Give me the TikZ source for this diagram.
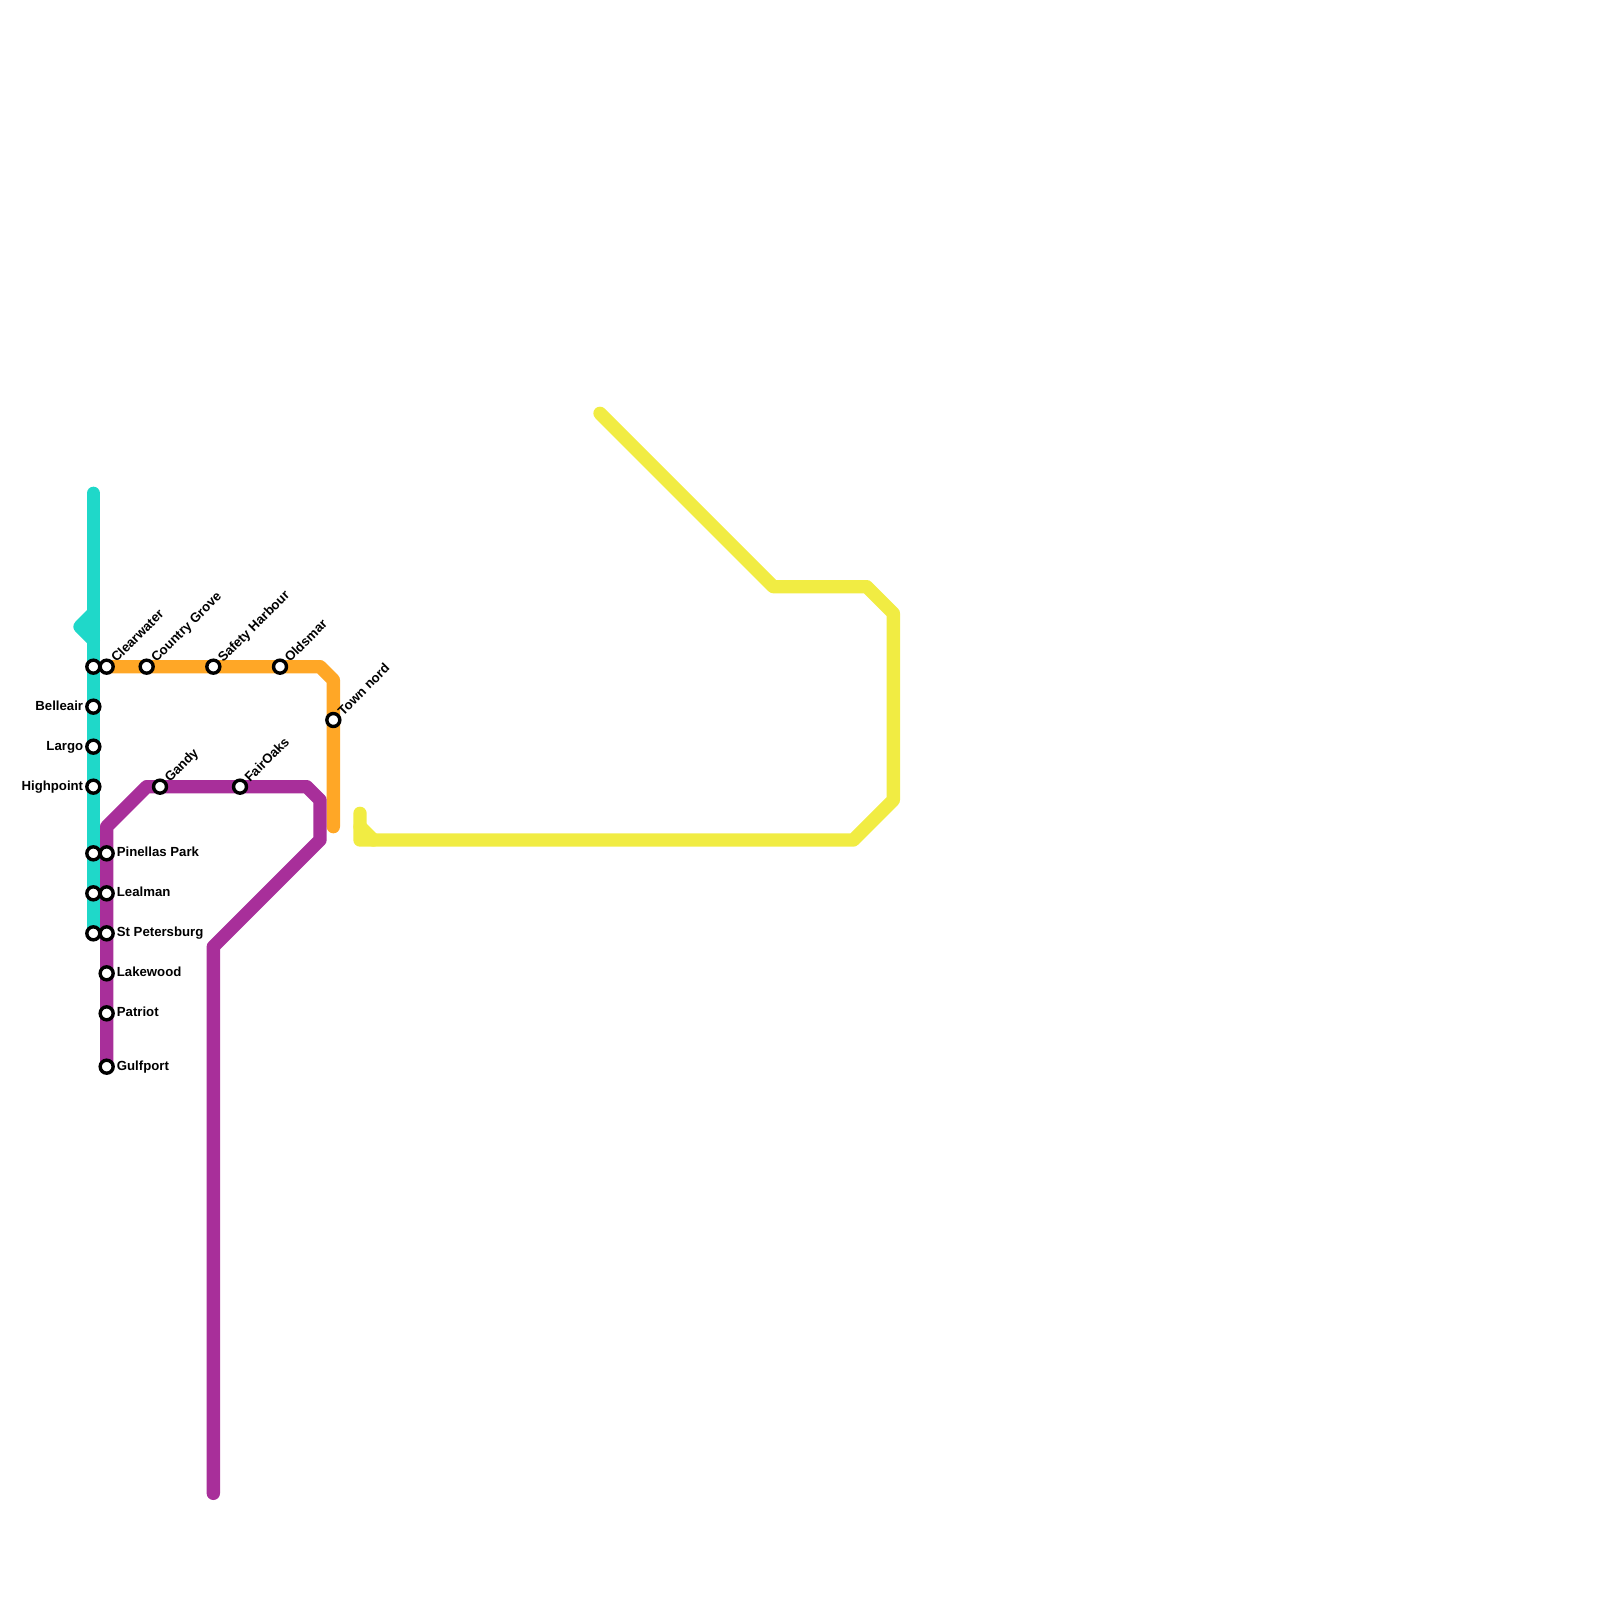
\documentclass[tikz,border=0pt]{standalone}
\usepackage{xcolor}
\usepackage{fontspec}
\setmainfont{Liberation Sans}
\definecolor{lineteal}{HTML}{1FD8C9}
\definecolor{lineorange}{HTML}{FFA726}
\definecolor{linepurple}{HTML}{A82F9A}
\definecolor{lineyellow}{HTML}{F1EC43}
\tikzset{
  metro/.style={line width=6.67pt, line cap=round, line join=round},
  stn/.style={circle, draw=black, fill=white, line width=1.7pt, minimum size=6.5pt, inner sep=0pt},
  lblE/.style={anchor=base west, inner sep=0pt, xshift=4.9pt, yshift=-1.8pt, font=\bfseries\fontsize{6.6}{8}\selectfont},
  lblW/.style={anchor=base east, inner sep=0pt, xshift=-4.9pt, yshift=-1.8pt, font=\bfseries\fontsize{6.6}{8}\selectfont},
  lblNE/.style={anchor=base west, inner sep=0pt, rotate=45, xshift=4.7pt, yshift=-2.2pt, font=\bfseries\fontsize{6.6}{8}\selectfont}
}
\begin{document}
\begin{tikzpicture}[x=0.5pt, y=-0.5pt]
\useasboundingbox (0,0) rectangle (1600,1600);

\coordinate (tealTop) at (93.33,493.33);
\coordinate (tealA) at (93.33,613.33);
\coordinate (tealB) at (80,626.67);
\coordinate (tealC) at (93.33,640);
\coordinate (tealEnd) at (93.33,933.33);
\draw[metro, lineteal] (tealTop) -- (tealEnd);
\draw[metro, lineteal] (tealA) -- (tealB) -- (tealC);

\coordinate (orangeStart) at (106.67,666.67);
\coordinate (orangeA) at (320,666.67);
\coordinate (orangeB) at (333.33,680);
\coordinate (orangeEnd) at (333.33,826.67);
\draw[metro, lineorange] (orangeStart) -- (orangeA) -- (orangeB) -- (orangeEnd);

\coordinate (purpleStart) at (213.33,1493.33);
\coordinate (purpleA) at (213.33,946.67);
\coordinate (purpleB) at (320,840);
\coordinate (purpleC) at (320,800);
\coordinate (purpleD) at (306.67,786.67);
\coordinate (purpleE) at (146.67,786.67);
\coordinate (purpleF) at (106.67,826.67);
\coordinate (purpleEnd) at (106.67,1066.67);
\draw[metro, linepurple] (purpleStart) -- (purpleA) -- (purpleB) -- (purpleC) -- (purpleD) -- (purpleE) -- (purpleF) -- (purpleEnd);

\coordinate (yellowStart) at (600,413.33);
\coordinate (yellowA) at (773.33,586.67);
\coordinate (yellowB) at (866.67,586.67);
\coordinate (yellowC) at (893.33,613.33);
\coordinate (yellowD) at (893.33,800);
\coordinate (yellowE) at (853.33,840);
\coordinate (yellowF) at (360,840);
\coordinate (yellowG) at (360,813.33);
\coordinate (yellowH) at (360,826.67);
\coordinate (yellowI) at (373.33,840);
\draw[metro, lineyellow] (yellowStart) -- (yellowA) -- (yellowB) -- (yellowC) -- (yellowD) -- (yellowE) -- (yellowF) -- (yellowG);
\draw[metro, lineyellow] (yellowH) -- (yellowI);

% teal stations
\node[stn] (dunedin) at (93.33,666.67) {};
\node[stn] (belleair) at (93.33,706.67) {};
\node[stn] (largo) at (93.33,746.67) {};
\node[stn] (highpoint) at (93.33,786.67) {};
\node[stn] (pinellasW) at (93.33,853.33) {};
\node[stn] (lealmanW) at (93.33,893.33) {};
\node[stn] (petersW) at (93.33,933.33) {};
\node[lblW] (belleairText) at (belleair) {Belleair};
\node[lblW] (largoText) at (largo) {Largo};
\node[lblW] (highpointText) at (highpoint) {Highpoint};

% orange stations
\node[stn] (clearwater) at (106.67,666.67) {};
\node[stn] (country) at (146.67,666.67) {};
\node[stn] (safety) at (213.33,666.67) {};
\node[stn] (oldsmar) at (280,666.67) {};
\node[stn] (townnord) at (333.33,720) {};
\node[lblNE] (clearwaterText) at (clearwater) {Clearwater};
\node[lblNE] (countryText) at (country) {Country Grove};
\node[lblNE] (safetyText) at (safety) {Safety Harbour};
\node[lblNE] (oldsmarText) at (oldsmar) {Oldsmar};
\node[lblNE] (townnordText) at (townnord) {Town nord};

% purple stations
\node[stn] (gandy) at (160,786.67) {};
\node[stn] (fairoaks) at (240,786.67) {};
\node[stn] (pinellas) at (106.67,853.33) {};
\node[stn] (lealman) at (106.67,893.33) {};
\node[stn] (peters) at (106.67,933.33) {};
\node[stn] (lakewood) at (106.67,973.33) {};
\node[stn] (patriot) at (106.67,1013.33) {};
\node[stn] (gulfport) at (106.67,1066.67) {};
\node[lblNE] (gandyText) at (gandy) {Gandy};
\node[lblNE] (fairoaksText) at (fairoaks) {FairOaks};
\node[lblE] (pinellasText) at (pinellas) {Pinellas Park};
\node[lblE] (lealmanText) at (lealman) {Lealman};
\node[lblE] (petersText) at (peters) {St Petersburg};
\node[lblE] (lakewoodText) at (lakewood) {Lakewood};
\node[lblE] (patriotText) at (patriot) {Patriot};
\node[lblE] (gulfportText) at (gulfport) {Gulfport};

\end{tikzpicture}
\end{document}
